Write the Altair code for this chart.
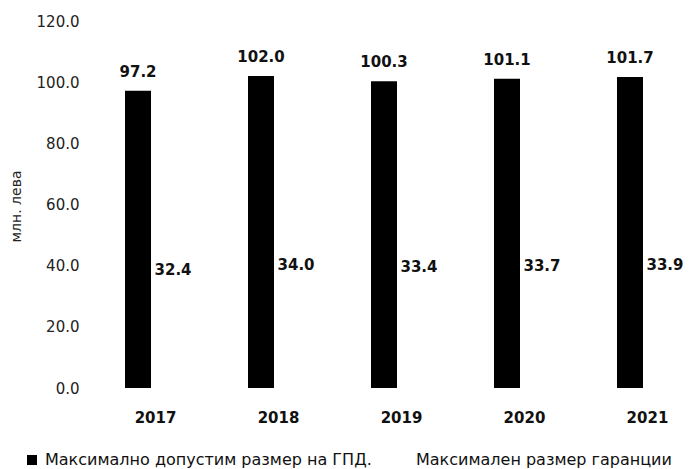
import altair as alt
import pandas as pd

# Yearly limits, million BGN
years = ["2017", "2018", "2019", "2020", "2021"]
gpd_max = [97.2, 102.0, 100.3, 101.1, 101.7]
guarantee_max = [32.4, 34.0, 33.4, 33.7, 33.9]
series_names = ["Максимално допустим размер на ГПД.", "Максимален размер гаранции"]
y_ticks = [0, 20, 40, 60, 80, 100, 120]

rows = []
for i, yr in enumerate(years):
    rows.append({"year": yr, "series": series_names[0], "value": gpd_max[i]})
    rows.append({"year": yr, "series": series_names[1], "value": guarantee_max[i]})
df = pd.DataFrame(rows)

FONT = "DejaVu Sans"

base = alt.Chart(df).encode(
    x=alt.X(
        "year:N",
        sort=years,
        scale=alt.Scale(paddingInner=0.504, paddingOuter=0),
        axis=alt.Axis(
            title=None, labelAngle=0, domain=False, ticks=False, labelPadding=22,
            labelFont=FONT, labelFontSize=15, labelFontWeight="bold", labelColor="#111111",
        ),
    ),
    xOffset=alt.XOffset(
        "series:N", sort=series_names,
        scale=alt.Scale(domain=series_names, paddingInner=0.257, paddingOuter=0),
    ),
    y=alt.Y(
        "value:Q",
        stack=False,
        scale=alt.Scale(domain=[0, 120]),
        axis=alt.Axis(
            values=y_ticks, format=".1f", title="млн. лева", grid=False, domain=False,
            ticks=False, labelPadding=46, labelFont=FONT, labelFontSize=15,
            labelColor="#222222", titleFont=FONT, titleFontSize=14,
            titleFontWeight="normal", titleColor="#222222", titleAngle=270,
            titleX=-109, titleY=185, titleAlign="center", titleBaseline="middle",
        ),
    ),
)

bars = base.mark_bar().encode(
    color=alt.Color(
        "series:N",
        sort=series_names,
        scale=alt.Scale(domain=series_names, range=["#000000", "#ffffff"]),
        legend=alt.Legend(
            title=None, orient="none", direction="horizontal", legendX=-101, legendY=431,
            symbolType="square", symbolSize=100, symbolStrokeWidth=0, labelOffset=5,
            labelFont=FONT, labelFontSize=16, labelColor="#111111", labelLimit=400,
            columnPadding=23,
        ),
    )
)

labels = base.mark_text(
    baseline="middle", dy=-19, font=FONT, fontSize=15, fontWeight="bold", color="#111111"
).encode(text=alt.Text("value:Q", format=".1f"))

chart = (
    (bars + labels)
    .properties(
        width=553,
        height=367,
        padding={"left": 125, "top": 21, "right": 11, "bottom": 81},
        autosize=alt.AutoSizeParams(type="none"),
        background="white",
    )
    .configure_view(strokeWidth=0)
)

chart.save("out.html", embed_options={"renderer": "svg", "actions": False})
